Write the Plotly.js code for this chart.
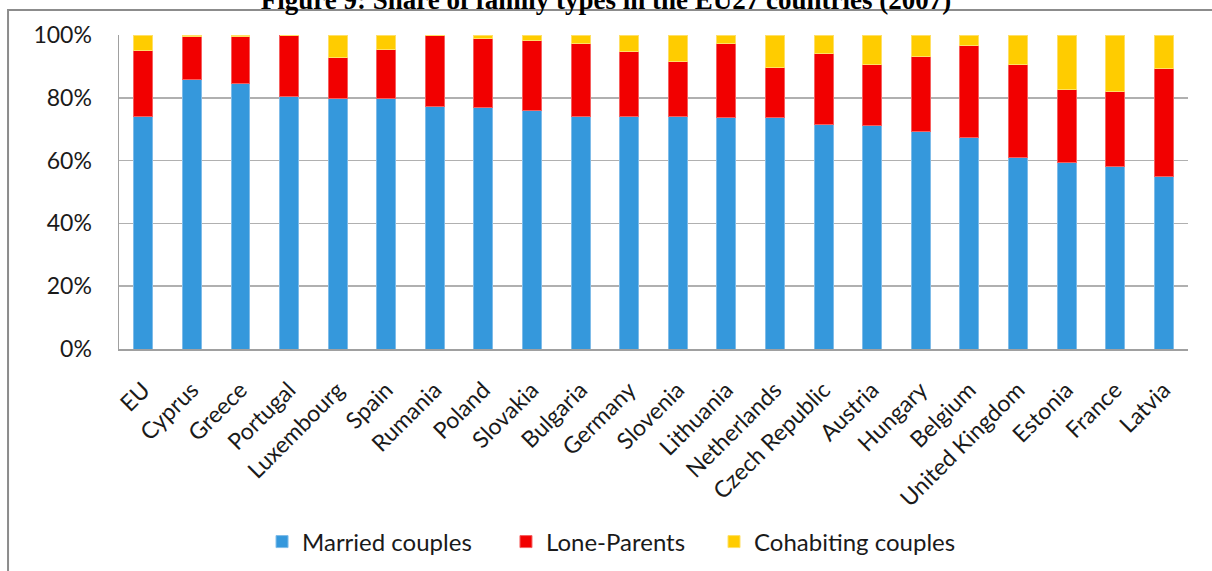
<!DOCTYPE html>
<html>
<head>
<meta charset="utf-8">
<script src="https://cdn.plot.ly/plotly-3.0.1.min.js"></script>
<style>
html,body{margin:0;padding:0;background:#fff;}
#chart{width:1212px;height:571px;}
</style>
</head>
<body>
<div id="chart"></div>
<script>
const countries = ["EU","Cyprus","Greece","Portugal","Luxembourg","Spain","Rumania","Poland","Slovakia","Bulgaria","Germany","Slovenia","Lithuania","Netherlands","Czech Republic","Austria","Hungary","Belgium","United Kingdom","Estonia","France","Latvia"];
const married    = [74.0, 85.9, 84.5, 80.5, 79.8, 79.8, 77.3, 76.8, 75.9, 74.0, 74.0, 74.0, 73.6, 73.6, 71.5, 71.2, 69.4, 67.2, 60.9, 59.4, 58.0, 54.8];
const loneParents= [21.2, 13.7, 15.1, 19.5, 12.9, 15.7, 22.6, 22.0, 22.2, 23.3, 20.9, 17.6, 23.7, 16.2, 22.6, 19.3, 23.6, 29.4, 29.6, 23.3, 23.9, 34.5];
const cohabiting = [4.8, 0.4, 0.4, 0.0, 7.3, 4.5, 0.1, 1.2, 1.9, 2.7, 5.1, 8.4, 2.7, 10.2, 5.9, 9.5, 7.0, 3.4, 9.5, 17.3, 18.1, 10.7];
const yTicks = [0, 20, 40, 60, 80, 100];
const yTickLabels = ["0%", "20%", "40%", "60%", "80%", "100%"];

const font = "Lato, 'Open Sans', sans-serif";
function series(name, vals, color, line, legendId) {
  return {type: "bar", name: name, x: countries, y: vals, legend: legendId,
    marker: {color: color, line: {color: line, width: 1}}};
}
const data = [
  series("Married couples", married, "#3598dc", "#7fbce9", "legend"),
  series("Lone-Parents", loneParents, "#f20000", "#f56060", "legend2"),
  series("Cohabiting couples", cohabiting, "#ffcc00", "#ffe066", "legend3")
];
function legendAt(x) {
  return {orientation: "h", x: x, xanchor: "left", y: 0.0508, yref: "container", yanchor: "middle",
    font: {family: font, size: 24, color: "#1a1a1a"}, bgcolor: "rgba(0,0,0,0)"};
}
const layout = {
  width: 1212, height: 571,
  margin: {l: 119, r: 24, t: 35, b: 222},
  paper_bgcolor: "#fff", plot_bgcolor: "#fff",
  barmode: "stack", bargap: 0.61,
  title: {text: "<b>Figure 9: Share of family types in the EU27 countries (2007)</b>",
    font: {family: "'Liberation Serif', 'Times New Roman', serif", size: 27, color: "#000"},
    x: 0.5, xref: "container", y: 1, yref: "container", yanchor: "middle"},
  xaxis: {type: "category", tickangle: -45, tickfont: {family: font, size: 23, color: "#1a1a1a"},
    ticklabelstandoff: 17, automargin: false,
    showline: true, linecolor: "#a0a0a0", linewidth: 1.5, ticks: "", showgrid: false,
    mirror: false, range: [-0.5, 21.5]},
  yaxis: {range: [0, 100], tickvals: yTicks, ticktext: yTickLabels, automargin: false,
    tickfont: {family: font, size: 23, color: "#1a1a1a"}, ticklabelstandoff: 21,
    showgrid: true, gridcolor: "#b0b0b0", gridwidth: 1.5,
    showline: true, linecolor: "#a0a0a0", linewidth: 1.5, ticks: "", ticklen: 0, zeroline: false,
    fixedrange: true},
  showlegend: true,
  legend: legendAt(0.1338),
  legend2: legendAt(0.362),
  legend3: legendAt(0.5566),
  shapes: [{type: "rect", xref: "paper", yref: "paper", x0: -0.1038, x1: 1.2, y0: -1.0, y1: 1.0796,
    line: {color: "#8c8c8c", width: 2}, fillcolor: "rgba(0,0,0,0)", layer: "below"}]
};
Plotly.newPlot("chart", data, layout, {displayModeBar: false, staticPlot: true});
</script>
</body>
</html>
